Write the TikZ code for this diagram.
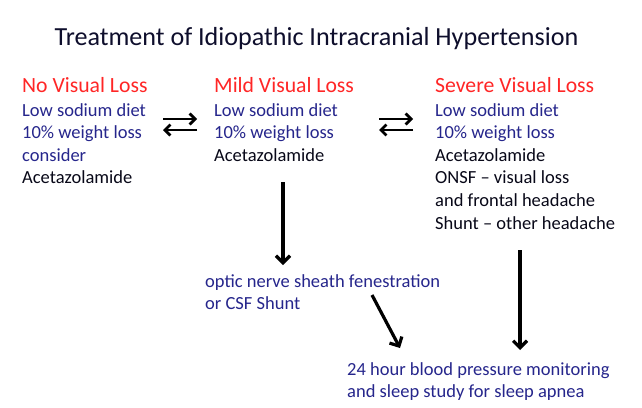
\documentclass[tikz,border=0pt]{standalone}
\usepackage{fontspec}
\setmainfont{Carlito}
\usetikzlibrary{arrows.meta}
\definecolor{hdred}{RGB}{255,38,38}
\definecolor{txblue}{RGB}{38,38,140}
\definecolor{txblack}{RGB}{8,8,24}
\definecolor{ttl}{RGB}{14,14,44}
\begin{document}
\begin{tikzpicture}[x=1pt,y=-1pt,
  ttlstyle/.style={anchor=base,inner sep=0,text=ttl,font=\fontsize{26.1}{30}\selectfont},
  heading/.style={anchor=base west,inner sep=0,text=hdred,font=\fontsize{21.7}{26}\selectfont},
  body/.style={anchor=base west,inner sep=0,align=left,text=txblue,font=\fontsize{18.5}{22.6}\selectfont},
  arr/.style={line width=3.2pt,-{Straight Barb[length=7pt,width=14pt]}},
  sarr/.style={line width=2.8pt,-{Straight Barb[length=5.5pt,width=11pt]}}]
\useasboundingbox[fill=white] (0,0) rectangle (642,407);
\node[ttlstyle] (title) at (316.5,45) {Treatment of Idiopathic Intracranial Hypertension};
\node[heading] (h1) at (22,92) {No Visual Loss};
\node[heading] (h2) at (214,92) {Mild Visual Loss};
\node[heading] (h3) at (435,92) {Severe Visual Loss};
% body nodes: base anchor sits on the last line
\node[body] (b1) at (22,183.8) {Low sodium diet\\10\% weight loss\\consider\\\textcolor{txblack}{Acetazolamide}};
\node[body] (b2) at (214,161.2) {Low sodium diet\\10\% weight loss\\\textcolor{txblack}{Acetazolamide}};
\node[body] (b3) at (435,229) {Low sodium diet\\10\% weight loss\\\textcolor{txblack}{Acetazolamide}\\\textcolor{txblack}{ONSF – visual loss}\\\textcolor{txblack}{and frontal headache}\\\textcolor{txblack}{Shunt – other headache}};
\node[body] (s1) at (205,309.6) {optic nerve sheath fenestration\\or CSF Shunt};
\node[body] (s2) at (347,397.6) {24 hour blood pressure monitoring\\and sleep study for sleep apnea};
% arrow end points
\coordinate (a1r0) at (163,119); \coordinate (a1r1) at (197,119);
\coordinate (a1l0) at (197,130); \coordinate (a1l1) at (163,130);
\coordinate (a2r0) at (379,119); \coordinate (a2r1) at (413,119);
\coordinate (a2l0) at (413,130); \coordinate (a2l1) at (379,130);
\coordinate (v1a) at (283,182); \coordinate (v1b) at (283,265);
\coordinate (v2a) at (520,250); \coordinate (v2b) at (520,350);
\coordinate (d1a) at (372,295); \coordinate (d1b) at (400,348);
\draw[sarr] (a1r0) -- (a1r1);
\draw[sarr] (a1l0) -- (a1l1);
\draw[sarr] (a2r0) -- (a2r1);
\draw[sarr] (a2l0) -- (a2l1);
\draw[arr] (v1a) -- (v1b);
\draw[arr] (v2a) -- (v2b);
\draw[arr] (d1a) -- (d1b);
\end{tikzpicture}
\end{document}
